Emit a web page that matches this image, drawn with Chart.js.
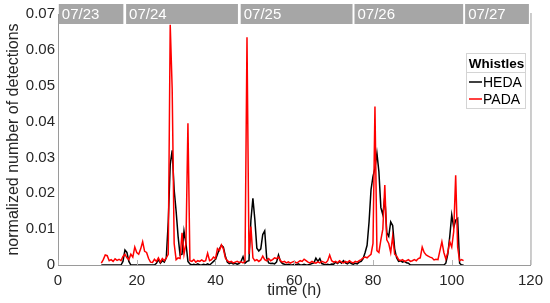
<!DOCTYPE html>
<html><head><meta charset="utf-8">
<script src="https://cdn.jsdelivr.net/npm/chart.js@4.4.0/dist/chart.umd.min.js"></script>
<style>html,body{margin:0;padding:0;background:#fff}#wrap{width:550px;height:303px}</style>
</head><body><div id="wrap"><canvas id="c" width="550" height="303"></canvas></div>
<script>
// time grid (h): 11.0 .. 103.0, every 0.5 h
const hours = [];
for (let i = 0; i < 185; i++) hours.push(11 + 0.5 * i);

const padaValues = [
  0.0005,0.0015,0.0028,0.0026,0.0012,0.0015,0.0010,0.0017,0.0013,0.0016, // 11
  0.0012,0.0024,0.0030,0.0020,0.0015,0.0030,0.0022,0.0050,0.0035,0.0030, // 16
  0.0045,0.0065,0.0038,0.0035,0.0018,0.0008,0.0007,0.0016,0.0010,0.0020, // 21
  0.0008,0.0018,0.0012,0.0020,0.0030,0.0670,0.0490,0.0060,0.0015,0.0020, // 26
  0.0018,0.0090,0.0030,0.0060,0.0395,0.0012,0.0010,0.0015,0.0008,0.0012, // 31
  0.0010,0.0014,0.0010,0.0012,0.0033,0.0012,0.0015,0.0022,0.0018,0.0046, // 36
  0.0040,0.0056,0.0045,0.0020,0.0012,0.0008,0.0010,0.0006,0.0008,0.0010, // 41
  0.0007,0.0009,0.0006,0.0010,0.0635,0.0030,0.0107,0.0020,0.0012,0.0015, // 46
  0.0010,0.0014,0.0025,0.0015,0.0012,0.0018,0.0012,0.0015,0.0020,0.0018, // 51
  0.0022,0.0012,0.0008,0.0010,0.0006,0.0009,0.0005,0.0008,0.0010,0.0006, // 56
  0.0008,0.0012,0.0010,0.0016,0.0012,0.0008,0.0006,0.0010,0.0007,0.0005, // 61
  0.0009,0.0006,0.0010,0.0008,0.0006,0.0012,0.0028,0.0012,0.0008,0.0010, // 66
  0.0006,0.0012,0.0008,0.0006,0.0010,0.0007,0.0012,0.0008,0.0006,0.0010, // 71
  0.0008,0.0012,0.0015,0.0020,0.0022,0.0020,0.0025,0.0030,0.0060,0.0442, // 76
  0.0040,0.0035,0.0070,0.0100,0.0223,0.0070,0.0060,0.0035,0.0080,0.0030, // 81
  0.0025,0.0015,0.0012,0.0015,0.0010,0.0012,0.0015,0.0010,0.0012,0.0015, // 86
  0.0012,0.0018,0.0020,0.0050,0.0035,0.0028,0.0025,0.0022,0.0020,0.0014, // 91
  0.0016,0.0015,0.0040,0.0065,0.0035,0.0017,0.0035,0.0065,0.0050,0.0093, // 96
  0.0250,0.0050,0.0012,0.0015,0.0012                                     // 101
];

const hedaValues = [
  0,0,0,0,0,0,0,0,0,0,                                                   // 11
  0,0.0010,0.0042,0.0035,0.0010,0,0,0,0,0,                               // 16
  0,0,0,0,0,0,0,0,0.0005,0.0015,                                         // 21
  0.0005,0.0012,0.0008,0.0020,0.0120,0.0280,0.0320,0.0210,0.0150,0.0080, // 26
  0.0028,0.0030,0.0095,0.0060,0.0010,0.0003,0,0.0002,0,0.0003,           // 31
  0,0,0.0002,0,0.0003,0,0.0005,0.0010,0.0015,0.0030,                     // 36
  0.0045,0.0055,0.0050,0.0025,0.0008,0.0004,0.0006,0.0003,0.0005,0.0002, // 41
  0.0004,0.0010,0.0023,0.0005,0.0010,0.0012,0.0126,0.0186,0.0126,0.0047, // 46
  0.0039,0.0045,0.0085,0.0095,0.0020,0.0006,0.0004,0.0005,0.0003,0.0008, // 51
  0.0028,0.0010,0.0004,0.0002,0,0.0002,0,0,0.0002,0,                     // 56
  0.0003,0,0,0.0002,0,0,0.0002,0.0004,0.0006,0.0019,                     // 61
  0.0010,0.0018,0.0004,0.0002,0,0.0002,0,0.0003,0.0002,0.0008,           // 66
  0.0004,0.0010,0.0005,0.0012,0.0006,0.0003,0.0008,0.0004,0.0002,0.0005, // 71
  0.0003,0.0008,0.0010,0.0018,0.0035,0.0055,0.0120,0.0210,0.0247,0.0270, // 76
  0.0312,0.0260,0.0160,0.0140,0.0190,0.0090,0.0080,0.0120,0.0110,0.0045, // 81
  0.0020,0.0010,0.0012,0.0008,0.0010,0.0006,0.0005,0,0,0,                // 86
  0,0,0,0,0,0,0,0,0,0,                                                   // 91
  0,0,0,0,0,0.0005,0.0030,0.0080,0.0140,0.0105,                          // 96
  0.0125,0.0130,0.0005,0,0                                               // 101
];

const seriesNames = ['HEDA', 'PADA'];
const xTicks = [0, 20, 40, 60, 80, 100, 120];
const yTicks = [0, 0.01, 0.02, 0.03, 0.04, 0.05, 0.06, 0.07];
const dayLabels = ['07/23', '07/24', '07/25', '07/26', '07/27'];
const dayStart = [0.2, 17.3, 46.4, 75.3, 103.4];
const dayEnd = [16.6, 45.7, 74.8, 102.9, 119.6];

const FONT = "'Liberation Sans', Arial, sans-serif";
const AXIS = '#9a9a9a';

const toPts = (vals) => vals.map((v, i) => ({x: hours[i], y: v}));

const overlay = {
  id: 'overlay',
  afterDraw(chart) {
    const ctx = chart.ctx, a = chart.chartArea;
    const xs = chart.scales.x;
    ctx.save();
    // right box line
    ctx.strokeStyle = AXIS; ctx.lineWidth = 1;
    ctx.beginPath(); ctx.moveTo(a.right + 0.5, a.top - 1); ctx.lineTo(a.right + 0.5, a.bottom); ctx.stroke();
    // inward x ticks
    ctx.strokeStyle = '#b5b5b5';
    xTicks.forEach(t => {
      const px = Math.round(xs.getPixelForValue(t)) + 0.5;
      ctx.beginPath(); ctx.moveTo(px, a.bottom); ctx.lineTo(px, a.bottom - 5); ctx.stroke();
    });
    // date bars
    ctx.font = '15px ' + FONT;
    ctx.textBaseline = 'middle'; ctx.textAlign = 'left';
    dayLabels.forEach((lab, i) => {
      const x0 = xs.getPixelForValue(dayStart[i]);
      const x1 = xs.getPixelForValue(dayEnd[i]);
      ctx.fillStyle = '#a6a6a6';
      ctx.fillRect(x0, 4, x1 - x0, 20);
      ctx.fillStyle = '#ffffff';
      ctx.fillText(lab, x0 + 3, 15);
    });
    // legend
    const lx = 466, ly = 53, lw = 59, lh = 55;
    ctx.fillStyle = '#fff'; ctx.fillRect(lx, ly, lw, lh);
    ctx.strokeStyle = '#d4d4d4'; ctx.lineWidth = 1;
    ctx.strokeRect(lx + 0.5, ly + 0.5, lw, lh);
    ctx.beginPath(); ctx.moveTo(lx, ly + 19.5); ctx.lineTo(lx + lw, ly + 19.5); ctx.stroke();
    ctx.fillStyle = '#000';
    ctx.font = 'bold 13.5px ' + FONT; ctx.textAlign = 'center';
    ctx.fillText('Whistles', lx + lw / 2 + 1, ly + 11);
    ctx.font = '14px ' + FONT; ctx.textAlign = 'left';
    const cols = ['#000000', '#ff0000'];
    seriesNames.forEach((n, i) => {
      const yy = ly + 29 + i * 17;
      ctx.strokeStyle = cols[i]; ctx.lineWidth = 1.5;
      ctx.beginPath(); ctx.moveTo(lx + 3, yy); ctx.lineTo(lx + 16, yy); ctx.stroke();
      ctx.fillStyle = '#000';
      ctx.fillText(n, lx + 17, yy + 1);
    });
    ctx.restore();
  }
};

new Chart(document.getElementById('c'), {
  type: 'line',
  data: {
    datasets: [
      {label: seriesNames[0], data: toPts(hedaValues), borderColor: '#000000', borderWidth: 1.5, pointRadius: 0, tension: 0, order: 1},
      {label: seriesNames[1], data: toPts(padaValues), borderColor: '#ff0000', borderWidth: 1.5, pointRadius: 0, tension: 0, order: 0}
    ]
  },
  options: {
    responsive: false, animation: false, devicePixelRatio: 1,
    layout: {padding: {top: 14, right: 15, left: 0, bottom: 0}},
    plugins: {legend: {display: false}, tooltip: {enabled: false}},
    scales: {
      x: {
        type: 'linear', min: 0, max: 120,
        afterBuildTicks: (s) => { s.ticks = xTicks.map(v => ({value: v})); },
        afterFit: (s) => { s.height = 38; },
        grid: {display: false, drawTicks: false},
        border: {display: true, color: AXIS, width: 1},
        ticks: {padding: 7, color: '#262626', font: {family: FONT, size: 15}, maxRotation: 0, autoSkip: false},
        title: {display: true, text: 'time (h)', color: '#262626', font: {family: FONT, size: 16}, padding: {top: 0, bottom: 3}}
      },
      y: {
        type: 'linear', min: 0, max: 0.07,
        afterBuildTicks: (s) => { s.ticks = yTicks.map(v => ({value: v})); },
        afterFit: (s) => { s.width = 58; },
        grid: {display: false, drawTicks: false},
        border: {display: true, color: AXIS, width: 1},
        ticks: {padding: 3, color: '#262626', font: {family: FONT, size: 15}, autoSkip: false,
          callback: (v) => v === 0 ? '0' : v.toFixed(2)},
        title: {display: true, text: 'normalized number of detections', color: '#262626', font: {family: FONT, size: 16}, padding: {top: 4, bottom: 0}}
      }
    }
  },
  plugins: [overlay]
});
</script>
</body></html>
